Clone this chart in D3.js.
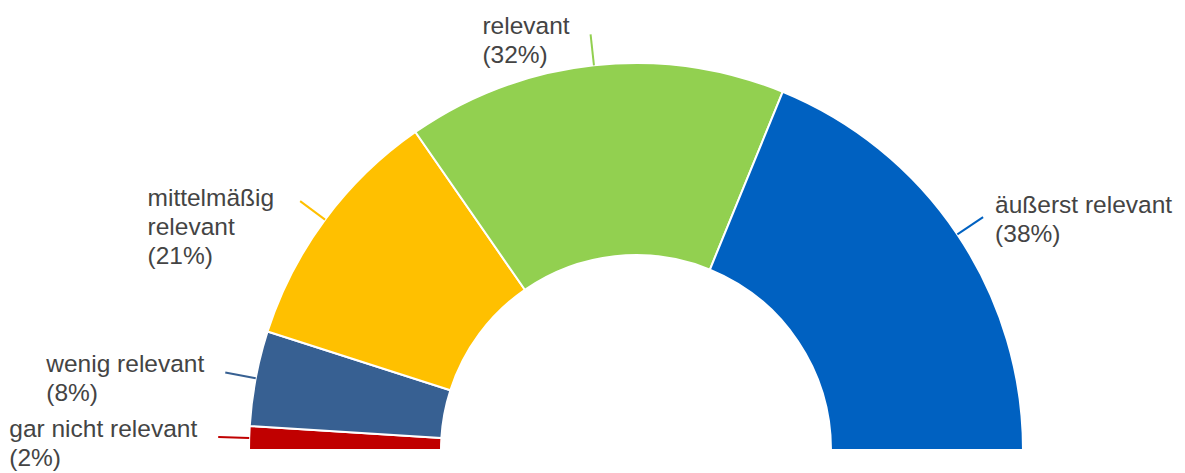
<!DOCTYPE html>
<html>
<head>
<meta charset="utf-8">
<script src="https://cdn.jsdelivr.net/npm/d3@7"></script>
<style>
  html, body { margin: 0; padding: 0; background: #fff; }
  svg { display: block; }
</style>
</head>
<body>
<svg id="chart" width="1185" height="473"></svg>
<script>
// Relevance ratings, shown as a half donut (left to right)
const categories = ["gar nicht relevant", "wenig relevant", "mittelmäßig relevant", "relevant", "äußerst relevant"];
const shares = [2, 8, 21, 32, 38];
const colors = ["#C00000", "#376092", "#FFC000", "#92D050", "#0061C1"];

const width = 1185, height = 473;
const cx = 636, cy = 450;
const innerR = 195, outerR = 387, leaderLen = 31;
const fontSize = 24.5, lineHeight = 29, wrapWidth = 200;

const data = categories.map((name, i) => ({ name, share: shares[i], color: colors[i] }));

const svg = d3.select("#chart");
const g = svg.append("g").attr("transform", `translate(${cx},${cy})`);

const pie = d3.pie()
  .value(d => d.share)
  .sort(null)
  .startAngle(-Math.PI / 2)
  .endAngle(Math.PI / 2);

const arcs = pie(data);

const arc = d3.arc().innerRadius(innerR).outerRadius(outerR);

g.selectAll("path.slice")
  .data(arcs)
  .join("path")
  .attr("class", "slice")
  .attr("d", arc)
  .attr("fill", d => d.data.color)
  .attr("stroke", "#fff")
  .attr("stroke-width", 2)
  .attr("stroke-linejoin", "round");

// Leader lines from the outer edge outward along the slice's mid angle
const edgeArc = d3.arc().innerRadius(outerR).outerRadius(outerR);
const tipArc = d3.arc().innerRadius(outerR + leaderLen).outerRadius(outerR + leaderLen);

g.selectAll("line.leader")
  .data(arcs)
  .join("line")
  .attr("class", "leader")
  .attr("x1", d => edgeArc.centroid(d)[0])
  .attr("y1", d => edgeArc.centroid(d)[1])
  .attr("x2", d => tipArc.centroid(d)[0])
  .attr("y2", d => tipArc.centroid(d)[1])
  .attr("stroke", d => d.data.color)
  .attr("stroke-width", 2);

// Labels: category name wrapped to width, percentage on its own line
const pct = d3.format(".0f");
const labels = g.selectAll("text.label")
  .data(arcs)
  .join("text")
  .attr("class", "label")
  .attr("font-family", "'Liberation Sans', Arial, sans-serif")
  .attr("font-size", fontSize)
  .attr("fill", "#444");

const probe = g.append("text")
  .attr("font-family", "'Liberation Sans', Arial, sans-serif")
  .attr("font-size", fontSize)
  .attr("visibility", "hidden");

function wrap(text) {
  const words = text.split(" ");
  const lines = [];
  let cur = "";
  words.forEach(w => {
    const trial = cur ? cur + " " + w : w;
    probe.text(trial);
    if (cur && probe.node().getComputedTextLength() > wrapWidth) {
      lines.push(cur);
      cur = w;
    } else {
      cur = trial;
    }
  });
  if (cur) lines.push(cur);
  return lines;
}

labels.each(function(d) {
  const t = d3.select(this);
  const lines = wrap(d.data.name).concat([`(${pct(d.data.share)}%)`]);
  const tip = tipArc.centroid(d);
  const mid = (d.startAngle + d.endAngle) / 2;
  const left = mid < 0;

  let blockW = 0;
  lines.forEach(l => {
    probe.text(l);
    blockW = Math.max(blockW, probe.node().getComputedTextLength());
  });

  // multi-line blocks sit a little further from the leader tip
  const gap = lines.length > 2 ? 26 : 21;
  const x0 = left ? tip[0] - gap - blockW : tip[0] + 12;
  const y0 = left ? tip[1] + (lines.length > 2 ? 5 : 0) : tip[1] - 4;

  t.selectAll("tspan")
    .data(lines)
    .join("tspan")
    .attr("x", x0)
    .attr("y", (l, i) => y0 + i * lineHeight)
    .text(l => l);
});

probe.remove();
</script>
</body>
</html>
